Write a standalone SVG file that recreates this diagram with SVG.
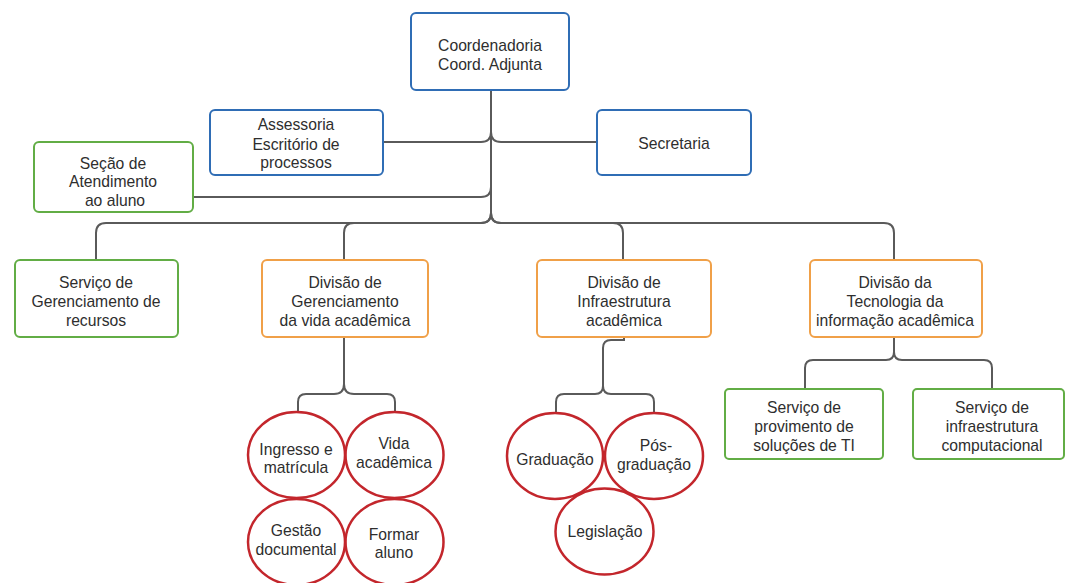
<svg xmlns="http://www.w3.org/2000/svg" width="1066" height="583" viewBox="0 0 1066 583">
<style>
.box{fill:#fff;stroke-width:2}
.blue{stroke:#2f6db5}
.green{stroke:#62ad45}
.orange{stroke:#f0a048}
.circ{fill:none;stroke:#c3262c;stroke-width:2.5}
.c{fill:none;stroke:#5a5a5a;stroke-width:2}
text{font-family:"Liberation Sans",Arial,sans-serif;font-size:15.7px;fill:#2e2e2e;text-anchor:middle}
</style>
<rect width="1066" height="583" fill="#fff"/>
<g id="connectors">
<path class="c" d="M491 90 V213"/>
<path class="c" d="M491 132 Q491 142 481 142 H383"/>
<path class="c" d="M491 132 Q491 142 501 142 H597"/>
<path class="c" d="M491 187 Q491 197 481 197 H193"/>
<path class="c" d="M491 213 Q491 223 481 223 H106 Q96 223 96 233 V260"/>
<path class="c" d="M491 213 Q491 223 481 223 H354 Q344 223 344 233 V260"/>
<path class="c" d="M491 213 Q491 223 501 223 H613 Q623 223 623 233 V260"/>
<path class="c" d="M491 213 Q491 223 501 223 H884 Q894 223 894 233 V260"/>
<path class="c" d="M344 337 V384 Q344 394 334 394 H306 Q298 394 298 402 V412"/>
<path class="c" d="M344 337 V384 Q344 394 354 394 H387 Q395 394 395 402 V412"/>
<path class="c" d="M624 337 V340 H611 Q603 340 603 348 V386 Q603 394 595 394 H564 Q556 394 556 402 V413"/>
<path class="c" d="M603 386 Q603 394 611 394 H646 Q654 394 654 402 V413"/>
<path class="c" d="M894 337 V352 Q894 360 886 360 H813 Q805 360 805 368 V389"/>
<path class="c" d="M894 352 Q894 360 902 360 H984 Q992 360 992 368 V389"/>
</g>
<g id="coordenadoria"><rect class="box blue" x="411" y="13" width="158" height="77" rx="5"/><text x="490" y="51">Coordenadoria</text><text x="490" y="70">Coord. Adjunta</text></g>
<g id="assessoria"><rect class="box blue" x="210" y="110" width="173" height="65" rx="5"/><text x="296" y="130">Assessoria</text><text x="296" y="150">Escritório de</text><text x="296" y="168">processos</text></g>
<g id="secretaria"><rect class="box blue" x="597" y="110" width="154" height="65" rx="5"/><text x="674" y="149">Secretaria</text></g>
<g id="secao"><rect class="box green" x="34" y="142" width="159" height="70" rx="5"/><text x="113" y="169">Seção de</text><text x="113" y="187">Atendimento</text><text x="115" y="206">ao aluno</text></g>
<g id="servico-gerenciamento"><rect class="box green" x="15" y="260" width="163" height="77" rx="5"/><text x="96" y="288">Serviço de</text><text x="96" y="307">Gerenciamento de</text><text x="96" y="326">recursos</text></g>
<g id="divisao-gerenciamento"><rect class="box orange" x="262" y="260" width="166" height="77" rx="5"/><text x="345" y="288">Divisão de</text><text x="345" y="307">Gerenciamento</text><text x="345" y="326">da vida acadêmica</text></g>
<g id="divisao-infra"><rect class="box orange" x="537" y="260" width="174" height="77" rx="5"/><text x="624" y="288">Divisão de</text><text x="624" y="307">Infraestrutura</text><text x="624" y="326">acadêmica</text></g>
<g id="divisao-tecnologia"><rect class="box orange" x="810" y="260" width="172" height="77" rx="5"/><text x="895" y="288">Divisão da</text><text x="895" y="307">Tecnologia da</text><text x="895" y="326">informação acadêmica</text></g>
<g id="servico-provimento"><rect class="box green" x="725" y="389" width="158" height="70" rx="4"/><text x="804" y="413">Serviço de</text><text x="804" y="432">provimento de</text><text x="804" y="451">soluções de TI</text></g>
<g id="servico-infra"><rect class="box green" x="913" y="389" width="151" height="70" rx="4"/><text x="992" y="413">Serviço de</text><text x="992" y="432">infraestrutura</text><text x="992" y="451">computacional</text></g>
<g id="ingresso"><ellipse class="circ" cx="296.5" cy="455" rx="48.5" ry="43"/><text x="296" y="455">Ingresso e</text><text x="296" y="473">matrícula</text></g>
<g id="vida"><ellipse class="circ" cx="394.5" cy="455" rx="49" ry="43"/><text x="394" y="449">Vida</text><text x="394" y="468">acadêmica</text></g>
<g id="gestao"><ellipse class="circ" cx="296.5" cy="542" rx="48.5" ry="43"/><text x="296" y="536">Gestão</text><text x="296" y="555">documental</text></g>
<g id="formar"><ellipse class="circ" cx="394.5" cy="542" rx="49" ry="43"/><text x="394" y="540">Formar</text><text x="394" y="558">aluno</text></g>
<g id="graduacao"><ellipse class="circ" cx="555" cy="456" rx="48" ry="43"/><text x="555" y="465">Graduação</text></g>
<g id="pos"><ellipse class="circ" cx="654" cy="456" rx="49" ry="43"/><text x="656" y="451">Pós-</text><text x="654" y="470">graduação</text></g>
<g id="legislacao"><ellipse class="circ" cx="604.5" cy="531.5" rx="49" ry="43"/><text x="605" y="537">Legislação</text></g>
</svg>
